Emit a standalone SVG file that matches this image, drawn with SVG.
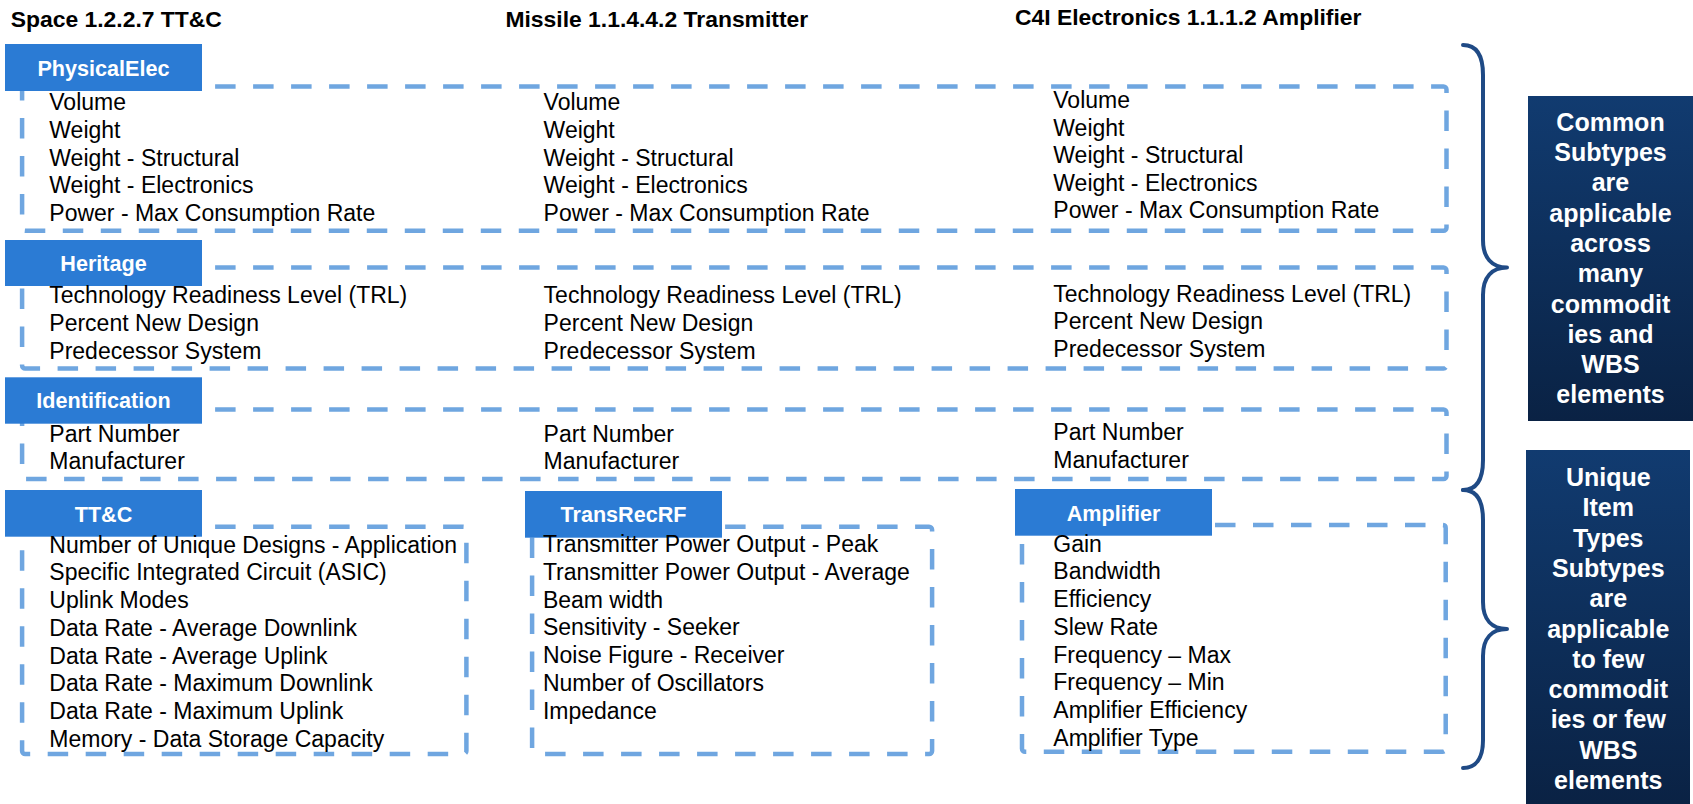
<svg xmlns="http://www.w3.org/2000/svg" width="1693" height="804" viewBox="0 0 1693 804">
<style>
.t{font-family:"Liberation Sans",Arial,sans-serif;font-size:23px;fill:#000}
.h{font-family:"Liberation Sans",Arial,sans-serif;font-size:22.9px;font-weight:bold;fill:#000}
.lb{font-family:"Liberation Sans",Arial,sans-serif;font-size:21.6px;font-weight:bold;fill:#fff;text-anchor:middle}
.lr{fill:#2B7BD4}
.db{fill:none;stroke:#6FA6E0;stroke-width:4.5;stroke-dasharray:20.5 17.5}
.br{fill:none;stroke:#1F4A85;stroke-width:4;stroke-linecap:round;stroke-linejoin:round}
.nt{font-family:"Liberation Sans",Arial,sans-serif;font-size:25px;font-weight:bold;fill:#fff;text-anchor:middle}
</style>
<defs>
<linearGradient id="g" x1="0" y1="0" x2="0" y2="1">
<stop offset="0" stop-color="#113B70"/>
<stop offset="1" stop-color="#0A2244"/>
</linearGradient>
</defs>
<rect width="1693" height="804" fill="#fff"/>
<g id="titles">
<text class="h" x="10.7" y="26.5">Space 1.2.2.7 TT&amp;C</text>
<text class="h" x="505.4" y="26.7">Missile 1.1.4.4.2 Transmitter</text>
<text class="h" x="1015" y="25">C4I Electronics 1.1.1.2 Amplifier</text>
</g>
<g id="physicalelec">
<rect class="db" x="22.1" y="86.5" width="1424.4" height="144.2" rx="3"/>
<rect class="lr" x="5" y="44" width="197" height="47"/>
<text class="lb" x="103.5" y="75.5">PhysicalElec</text>
<text class="t" x="49.3" y="110.3">Volume</text>
<text class="t" x="49.3" y="137.9">Weight</text>
<text class="t" x="49.3" y="165.5">Weight - Structural</text>
<text class="t" x="49.3" y="193.1">Weight - Electronics</text>
<text class="t" x="49.3" y="220.7">Power - Max Consumption Rate</text>
<text class="t" x="543.6" y="110.3">Volume</text>
<text class="t" x="543.6" y="137.9">Weight</text>
<text class="t" x="543.6" y="165.5">Weight - Structural</text>
<text class="t" x="543.6" y="193.1">Weight - Electronics</text>
<text class="t" x="543.6" y="220.7">Power - Max Consumption Rate</text>
<text class="t" x="1053.3" y="108">Volume</text>
<text class="t" x="1053.3" y="135.6">Weight</text>
<text class="t" x="1053.3" y="163.2">Weight - Structural</text>
<text class="t" x="1053.3" y="190.8">Weight - Electronics</text>
<text class="t" x="1053.3" y="218.4">Power - Max Consumption Rate</text>
</g>
<g id="heritage">
<rect class="db" x="22.1" y="267.5" width="1424.4" height="101" rx="3"/>
<rect class="lr" x="5" y="240" width="197" height="46"/>
<text class="lb" x="103.5" y="270.8">Heritage</text>
<text class="t" x="49.3" y="303.3">Technology Readiness Level (TRL)</text>
<text class="t" x="49.3" y="331">Percent New Design</text>
<text class="t" x="49.3" y="358.7">Predecessor System</text>
<text class="t" x="543.6" y="303.3">Technology Readiness Level (TRL)</text>
<text class="t" x="543.6" y="331">Percent New Design</text>
<text class="t" x="543.6" y="358.7">Predecessor System</text>
<text class="t" x="1053.3" y="301.5">Technology Readiness Level (TRL)</text>
<text class="t" x="1053.3" y="329.2">Percent New Design</text>
<text class="t" x="1053.3" y="356.9">Predecessor System</text>
</g>
<g id="identification">
<rect class="db" x="22.1" y="409.5" width="1424.4" height="69.5" rx="3"/>
<rect class="lr" x="5" y="377.3" width="197" height="46.4"/>
<text class="lb" x="103.5" y="408.4">Identification</text>
<text class="t" x="49.3" y="441.7">Part Number</text>
<text class="t" x="49.3" y="469.4">Manufacturer</text>
<text class="t" x="543.6" y="441.7">Part Number</text>
<text class="t" x="543.6" y="469.4">Manufacturer</text>
<text class="t" x="1053.3" y="440">Part Number</text>
<text class="t" x="1053.3" y="467.7">Manufacturer</text>
</g>
<g id="ttc">
<rect class="db" x="22.1" y="526.7" width="444.3" height="227.3" rx="3"/>
<rect class="lr" x="5" y="490" width="197" height="46.7"/>
<text class="lb" x="103.5" y="521.8">TT&amp;C</text>
<text class="t" x="49.3" y="552.7">Number of Unique Designs - Application</text>
<text class="t" x="49.3" y="580.4">Specific Integrated Circuit (ASIC)</text>
<text class="t" x="49.3" y="608.1">Uplink Modes</text>
<text class="t" x="49.3" y="635.8">Data Rate - Average Downlink</text>
<text class="t" x="49.3" y="663.5">Data Rate - Average Uplink</text>
<text class="t" x="49.3" y="691.2">Data Rate - Maximum Downlink</text>
<text class="t" x="49.3" y="718.9">Data Rate - Maximum Uplink</text>
<text class="t" x="49.3" y="746.6">Memory - Data Storage Capacity</text>
</g>
<g id="transrecrf">
<rect class="db" x="532.1" y="526.7" width="400" height="227.3" rx="3"/>
<rect class="lr" x="525" y="491" width="197" height="46.7"/>
<text class="lb" x="623.5" y="521.7">TransRecRF</text>
<text class="t" x="542.9" y="552.3">Transmitter Power Output - Peak</text>
<text class="t" x="542.9" y="580">Transmitter Power Output - Average</text>
<text class="t" x="542.9" y="607.7">Beam width</text>
<text class="t" x="542.9" y="635.4">Sensitivity - Seeker</text>
<text class="t" x="542.9" y="663.1">Noise Figure - Receiver</text>
<text class="t" x="542.9" y="690.8">Number of Oscillators</text>
<text class="t" x="542.9" y="718.5">Impedance</text>
</g>
<g id="amplifier">
<rect class="db" x="1022" y="525" width="423.7" height="226.7" rx="3"/>
<rect class="lr" x="1015" y="489" width="197" height="46.7"/>
<text class="lb" x="1113.5" y="520.7">Amplifier</text>
<text class="t" x="1053.3" y="551.7">Gain</text>
<text class="t" x="1053.3" y="579.4">Bandwidth</text>
<text class="t" x="1053.3" y="607.1">Efficiency</text>
<text class="t" x="1053.3" y="634.8">Slew Rate</text>
<text class="t" x="1053.3" y="662.5">Frequency – Max</text>
<text class="t" x="1053.3" y="690.2">Frequency – Min</text>
<text class="t" x="1053.3" y="717.9">Amplifier Efficiency</text>
<text class="t" x="1053.3" y="745.6">Amplifier Type</text>
</g>
<g id="connectors">
<path class="br" d="M1463 45 C1476 45 1483 55 1483 75 L1483 240 C1483 258 1492 267.5 1507 267.5 C1492 267.5 1483 277 1483 295 L1483 460 C1483 480 1476 490 1463 490"/>
<path class="br" d="M1463 490 C1476 490 1483 500 1483 520 L1483 602 C1483 620 1492 629 1507 629 C1492 629 1483 638 1483 656 L1483 740 C1483 758 1476 768 1463 768"/>
</g>
<g id="common">
<rect x="1528" y="96" width="165" height="325" fill="url(#g)"/>
<text class="nt" x="1610.5" y="130.7">Common</text>
<text class="nt" x="1610.5" y="161">Subtypes</text>
<text class="nt" x="1610.5" y="191.3">are</text>
<text class="nt" x="1610.5" y="221.6">applicable</text>
<text class="nt" x="1610.5" y="251.9">across</text>
<text class="nt" x="1610.5" y="282.2">many</text>
<text class="nt" x="1610.5" y="312.5">commodit</text>
<text class="nt" x="1610.5" y="342.8">ies and</text>
<text class="nt" x="1610.5" y="373.1">WBS</text>
<text class="nt" x="1610.5" y="403.4">elements</text>
</g>
<g id="unique">
<rect x="1526" y="450" width="164" height="354" fill="url(#g)"/>
<text class="nt" x="1608.3" y="486">Unique</text>
<text class="nt" x="1608.3" y="516.3">Item</text>
<text class="nt" x="1608.3" y="546.6">Types</text>
<text class="nt" x="1608.3" y="576.9">Subtypes</text>
<text class="nt" x="1608.3" y="607.2">are</text>
<text class="nt" x="1608.3" y="637.5">applicable</text>
<text class="nt" x="1608.3" y="667.8">to few</text>
<text class="nt" x="1608.3" y="698.1">commodit</text>
<text class="nt" x="1608.3" y="728.4">ies or few</text>
<text class="nt" x="1608.3" y="758.7">WBS</text>
<text class="nt" x="1608.3" y="789">elements</text>
</g>
</svg>
